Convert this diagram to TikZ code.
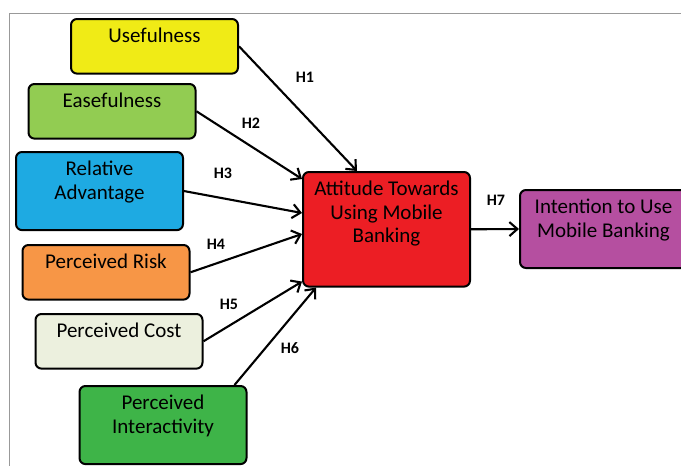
\documentclass[tikz,border=0pt]{standalone}
\usepackage{fontspec}
\setmainfont{Carlito}
\usetikzlibrary{arrows.meta,calc}

\begin{document}
\begin{tikzpicture}[x=1pt,y=-1pt,
  factor/.style={draw=black,line width=2pt,rounded corners=6pt,minimum width=167pt,
    anchor=north,align=center,inner ysep=9pt,text depth=22pt,
    font=\fontsize{21}{23.5}\selectfont},
  link/.style={line width=2.1pt,-{Straight Barb[length=8pt,width=14pt,line width=2.1pt]}},
  hyp/.style={font=\bfseries\fontsize{16}{18}\selectfont}]
  % Define colors
  \definecolor{usecolor}{RGB}{240,235,22}
  \definecolor{easecolor}{RGB}{146,204,82}
  \definecolor{advcolor}{RGB}{30,170,226}
  \definecolor{riskcolor}{RGB}{247,150,70}
  \definecolor{costcolor}{RGB}{236,240,222}
  \definecolor{interactcolor}{RGB}{62,180,72}
  \definecolor{attcolor}{RGB}{236,30,36}
  \definecolor{intentcolor}{RGB}{181,79,160}

  \useasboundingbox (0,0) rectangle (681,466);

  % Frame
  \draw[gray!80] (9,480) -- (9,13) -- (700,13);

  % Determinants
  \node[factor,fill=usecolor] (usefulness) at (154.5,18) {Usefulness};
  \node[factor,fill=easecolor] (easefulness) at (112,83) {Easefulness};
  \node[factor,fill=advcolor] (advantage) at (99.5,151) {Relative\\Advantage};
  \node[factor,fill=riskcolor] (risk) at (106,244) {Perceived Risk};
  \node[factor,fill=costcolor] (cost) at (119,313) {Perceived Cost};
  \node[factor,fill=interactcolor] (interactivity) at (163,385) {Perceived\\Interactivity};

  % Attitude and intention
  \node[factor,fill=attcolor,text depth=35pt] (attitude) at (386.5,171) {Attitude Towards\\Using Mobile\\Banking};
  \node[factor,fill=intentcolor] (intention) at (603.5,189) {Intention to Use\\Mobile Banking};

  % Hypotheses
  \draw[link] (usefulness.east) -- ($(attitude.north west)+(55,0)$);
  \draw[link] (easefulness.east) -- ($(attitude.north west)+(0,8)$);
  \draw[link] (advantage.east) -- ($(attitude.north west)+(0,42)$);
  \draw[link] (risk.east) -- ($(attitude.north west)+(0,63)$);
  \draw[link] (cost.east) -- ($(attitude.south west)+(0,-6)$);
  \draw[link] ($(interactivity.north east)+(-13,0)$) -- ($(attitude.south west)+(14,0)$);
  \draw[link] (attitude.east) -- (intention.west);

  % Labels
  \node[hyp] (h1) at (305,77) {H1};
  \node[hyp] (h2) at (251,123) {H2};
  \node[hyp] (h3) at (223,173) {H3};
  \node[hyp] (h4) at (216,244) {H4};
  \node[hyp] (h5) at (229,304) {H5};
  \node[hyp] (h6) at (290,348) {H6};
  \node[hyp] (h7) at (496,200) {H7};

\end{tikzpicture}
\end{document}
